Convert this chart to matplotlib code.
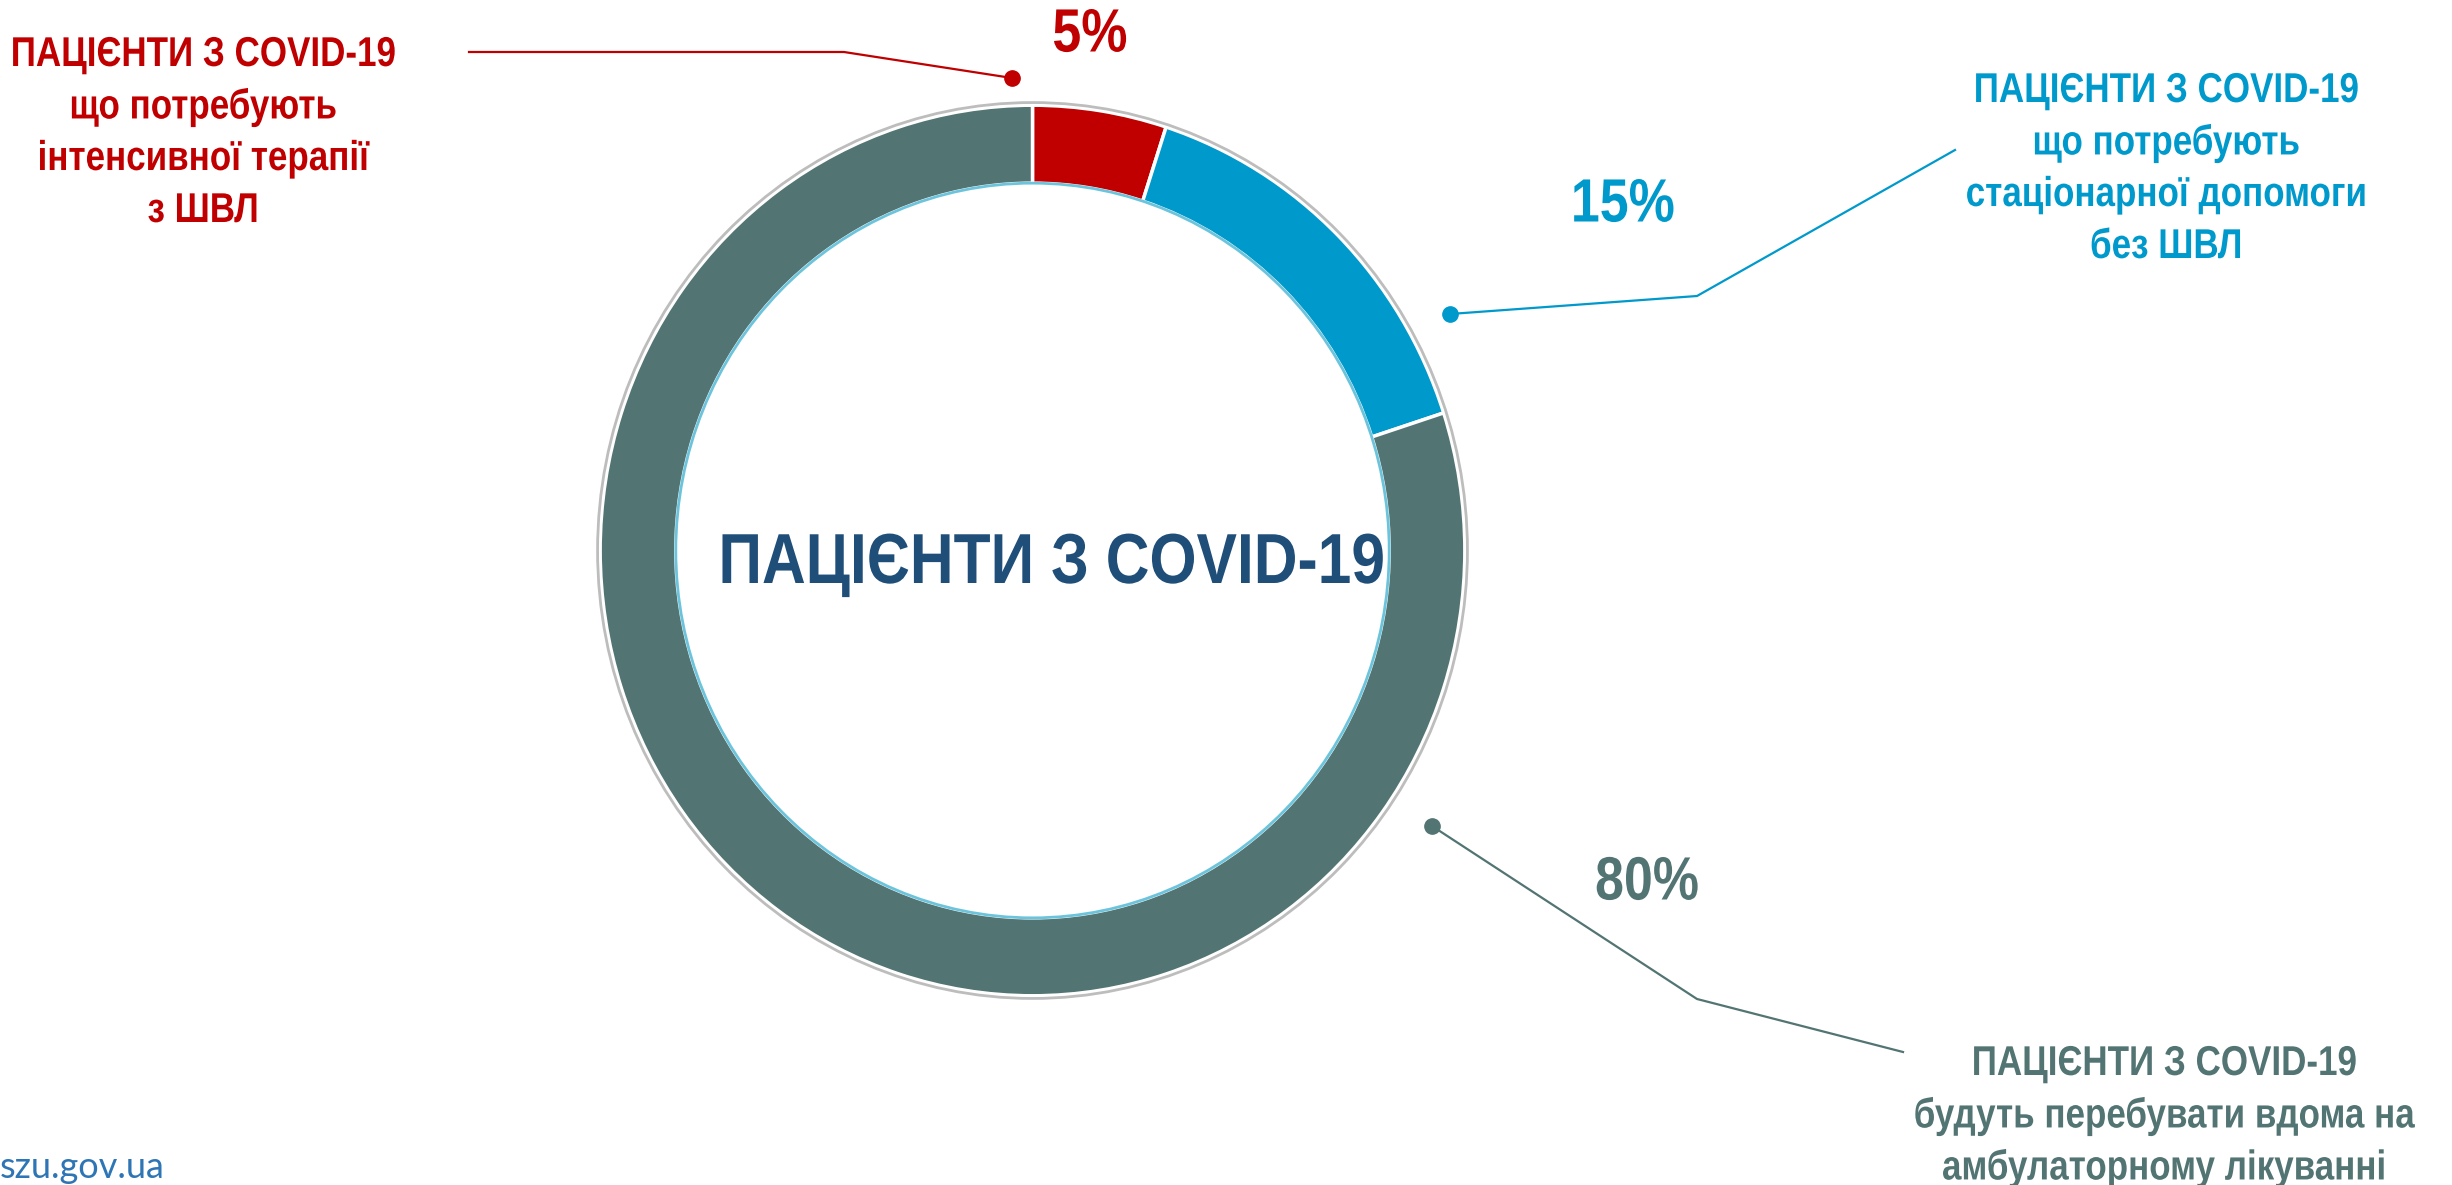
import matplotlib
matplotlib.use("Agg")
import matplotlib.pyplot as plt
from matplotlib.patches import Ellipse
from matplotlib.patheffects import AbstractPathEffect
from matplotlib.text import Text
from matplotlib.transforms import Affine2D, Bbox

# дані
shares = [5, 15, 80]
pct_labels = ["5%", "15%", "80%"]
colors = ["#C00000", "#0099CC", "#527473"]
group_labels = [
    "ПАЦІЄНТИ З COVID-19\nщо потребують\nінтенсивної терапії\nз ШВЛ",
    "ПАЦІЄНТИ З COVID-19\nщо потребують\nстаціонарної допомоги\nбез ШВЛ",
    "ПАЦІЄНТИ З COVID-19\nбудуть перебувати вдома на\nамбулаторному лікуванні",
]
center_title = "ПАЦІЄНТИ З COVID-19"
source = "szu.gov.ua"


class Squeeze(AbstractPathEffect):
    """стискає текст по горизонталі навколо точки прив'язки (імітація Arial Narrow)"""
    def __init__(self, txt, sx):
        super().__init__()
        self.txt = txt
        self.sx = sx

    def draw_path(self, renderer, gc, tpath, affine, rgbFace=None):
        cx = self.txt.get_transform().transform(self.txt.get_position())[0]
        aff = affine + Affine2D().translate(-cx, 0).scale(self.sx, 1).translate(cx, 0)
        renderer.draw_path(gc, tpath, aff, rgbFace)


class NarrowText(Text):
    def __init__(self, *args, sx=0.84, **kw):
        super().__init__(*args, **kw)
        self._sx = sx
        self.set_path_effects([Squeeze(self, sx)])

    def get_window_extent(self, renderer=None, dpi=None):
        bb = super().get_window_extent(renderer, dpi)
        cx = self.get_transform().transform(self.get_position())[0]
        return Bbox.from_extents(cx + (bb.x0 - cx) * self._sx, bb.y0,
                                 cx + (bb.x1 - cx) * self._sx, bb.y1)


def narrow_text(ax, x, y, s, sx=0.84, **kw):
    t = NarrowText(x, y, s, sx=sx, family="Liberation Sans", weight="bold", **kw)
    ax.add_artist(t)
    return t


W, H = 2452, 1185
fig = plt.figure(figsize=(W / 100, H / 100), dpi=100)

# кільце (трохи витягнуте по вертикалі, як в оригіналі)
cx0, cx1, cy0, cy1 = 598, 1467, 103, 998
ax = fig.add_axes([cx0 / W, 1 - cy1 / H, (cx1 - cx0) / W, (cy1 - cy0) / H])
wedges, _ = ax.pie(shares, colors=colors, startangle=90, counterclock=False,
                   wedgeprops=dict(width=0.175, edgecolor="white", linewidth=2.5))
ax.set_aspect("auto")
ax.set_xlim(-1.005, 1.005)
ax.set_ylim(-1.005, 1.005)
ax.add_patch(Ellipse((0, 0), 2.012, 2.012, fill=False, ec="#BDBDBD", lw=2, clip_on=False))
ax.add_patch(Ellipse((0, 0), 1.65, 1.65, fill=False, ec="#6CC4DC", lw=2))
ax.axis("off")

# шар для підписів у пікселях
ov = fig.add_axes([0, 0, 1, 1], facecolor="none")
ov.set_xlim(0, W)
ov.set_ylim(H, 0)
ov.axis("off")

# лінії-виноски
leaders = [
    ([469, 844, 1012], [52, 52, 78]),
    ([1955, 1697, 1450], [150, 296, 314]),
    ([1903, 1697, 1432], [1052, 999, 826]),
]
for (xs, ys), c in zip(leaders, colors):
    ov.plot(xs, ys, color=c, lw=1.6)
    ov.plot(xs[-1], ys[-1], "o", color=c, ms=11)

pct_pos = [(1090, 36), (1623, 206), (1647, 884)]
for (x, y), t, c in zip(pct_pos, pct_labels, colors):
    narrow_text(ov, x, y, t, sx=0.85, color=c, fontsize=44, ha="center", va="center")

lab_pos = [(203, 55), (2166, 91), (2164, 1064)]
for (x, y), t, c in zip(lab_pos, group_labels, colors):
    for i, line in enumerate(t.split("\n")):
        narrow_text(ov, x, y + i * 52, line, color=c, fontsize=30, ha="center", va="center")

narrow_text(ov, 1052, 583, center_title, sx=0.855, color="#1F4E79", fontsize=51,
            ha="center", va="baseline")
ov.text(0, 1168, source, color="#2E75B6", fontsize=26, ha="left", va="center", family="Lato")

fig.savefig("out.png", dpi=100)
